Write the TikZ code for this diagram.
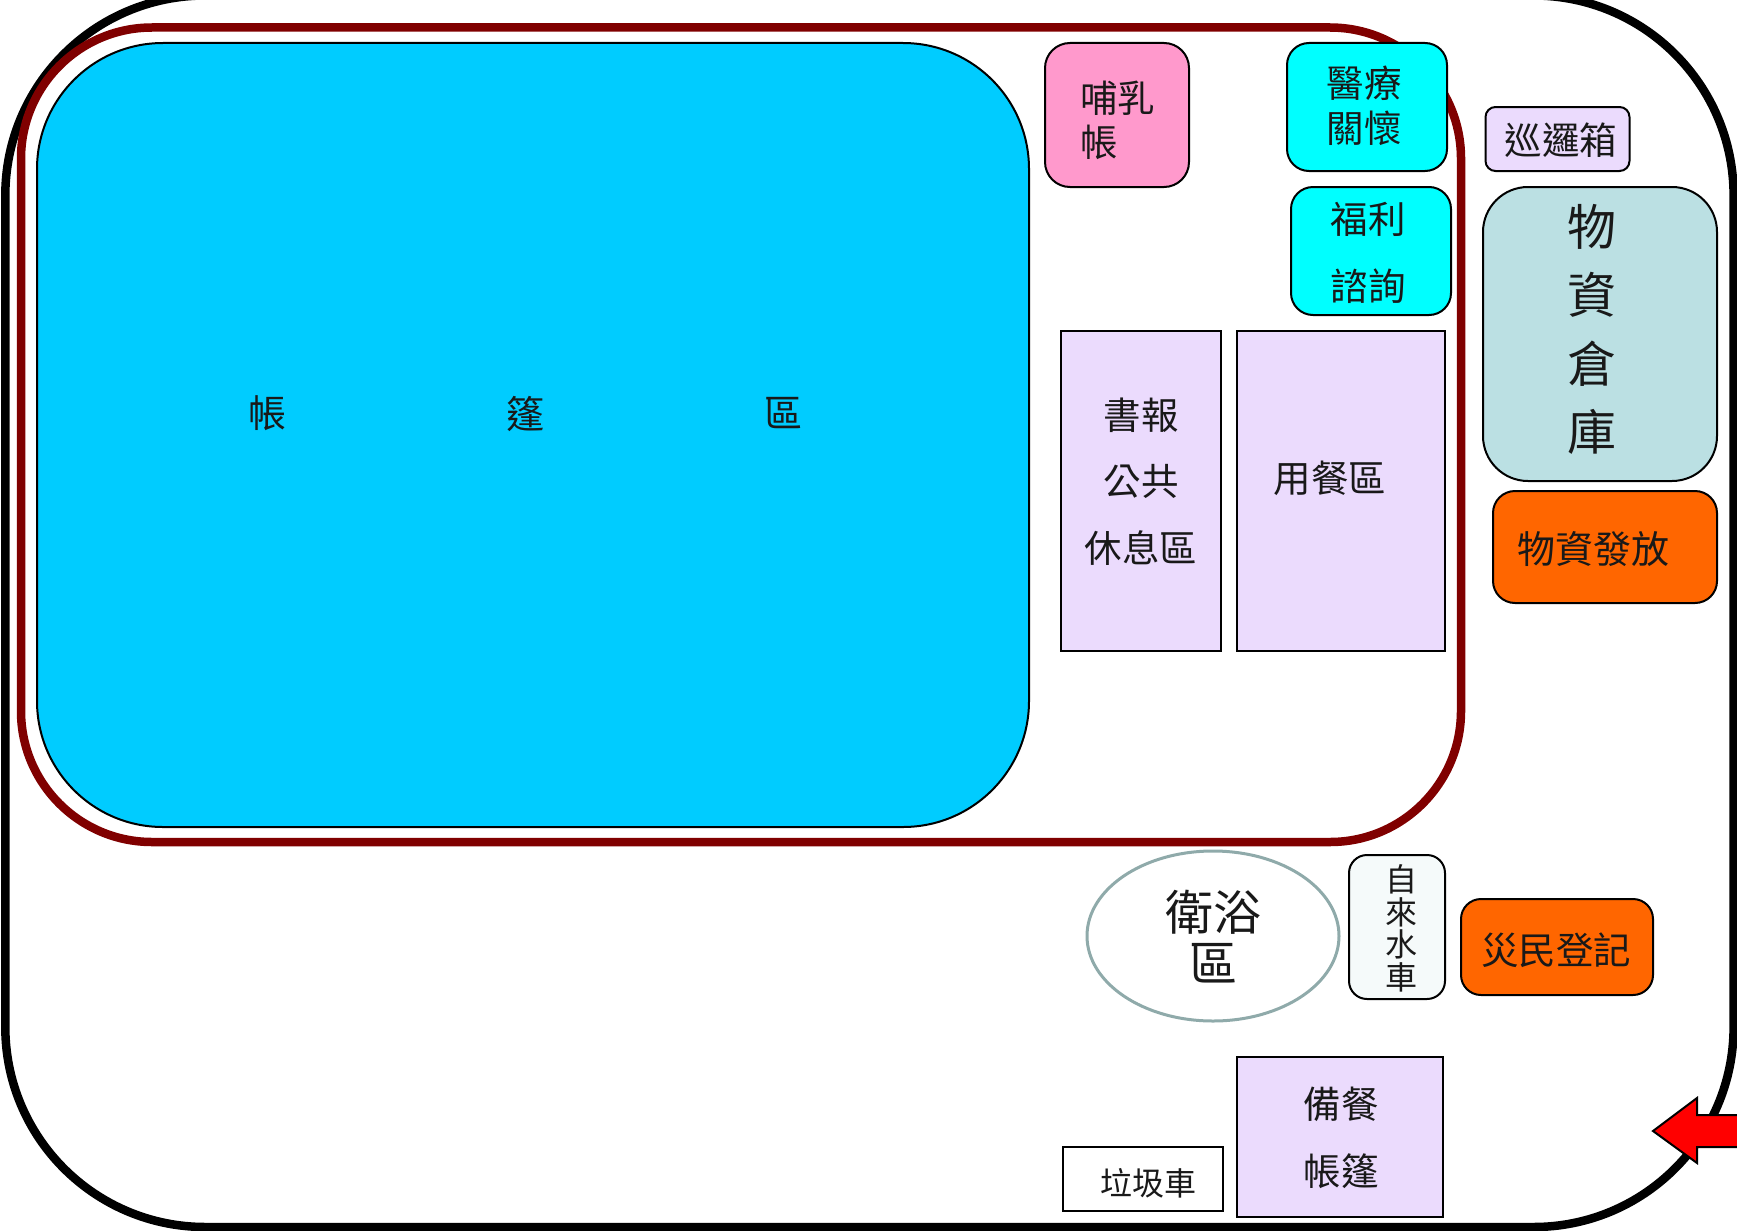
\documentclass[tikz,border=0pt]{standalone}
\usepackage{fontspec}
\setmainfont{Noto Sans CJK TC}
\usetikzlibrary{shapes.geometric}
\definecolor{tentblue}{HTML}{00CCFF}
\definecolor{careblue}{HTML}{00FFFF}
\definecolor{nursepink}{HTML}{FF99CC}
\definecolor{hallpurple}{HTML}{EBDBFD}
\definecolor{storeteal}{HTML}{BBE0E3}
\definecolor{signorange}{HTML}{FF6600}
\definecolor{waterpale}{HTML}{F5FAFA}
\definecolor{bathgrey}{HTML}{8FAAAA}
\newcommand{\fs}[2]{\fontsize{#1pt}{#2pt}\selectfont}

\begin{document}
\begin{tikzpicture}[
    x=1pt, y=-1pt,
    size/.style 2 args={minimum width=#1pt, minimum height=#2pt, inner sep=0pt, outer sep=0pt},
    ring/.style={draw, line width=8.5pt, rounded corners=200pt},
    camp/.style={draw=red!50!black, line width=8.5pt, rounded corners=131pt},
    soft/.style={draw, line width=2pt, rounded corners=#1},
    soft/.default=22pt,
    hall/.style={draw, line width=2pt, fill=hallpurple},
    txt/.style={align=center, inner sep=0pt, text=black!90}
  ]
  \useasboundingbox (0,0) rectangle (1737,1231);

  % site boundary and the inner camp line
  \node[ring, size={1728.3}{1231.5}] (site) at (869.45,611.25) {};
  \node[camp, size={1440}{814.5}] (camp) at (741,434.75) {};

  % tents
  \node[soft=126pt, fill=tentblue, size={992}{784}] (tents) at (533,435) {};
  \node[txt, font=\fs{38}{44}] (tentsA) at (267,413.5) {帳};
  \node[txt, font=\fs{38}{44}] (tentsB) at (525,413.5) {篷};
  \node[txt, font=\fs{38}{44}] (tentsC) at (783,413.5) {區};

  % top row
  \node[soft=25pt, fill=nursepink, size={144}{144},
    label={[txt, shift={(0.5,5)}, font=\fs{37.5}{44}, align=left]center:{哺乳\\帳}}] (nursing) at (1117,115) {};
  \node[soft, fill=careblue, size={160}{128},
    label={[txt, shift={(-3,-1.5)}, font=\fs{37.5}{45}]center:{醫療\\關懷}}] (medical) at (1367,107) {};
  \node[soft, fill=careblue, size={160}{128},
    label={[txt, shift={(-3,1.5)}, font=\fs{37.5}{67}]center:{福利\\諮詢}}] (welfare) at (1371,251) {};
  \node[soft=10pt, fill=hallpurple, size={144}{64},
    label={[txt, shift={(3.5,1.5)}, font=\fs{37.5}{44}]center:{巡邏箱}}] (patrol) at (1557.5,139) {};

  % halls
  \node[hall, size={160}{320},
    label={[txt, shift={(0,-9.5)}, font=\fs{37.5}{66.5}]center:{書報\\公共\\休息區}}] (reading) at (1141,491) {};
  \node[hall, size={208}{320},
    label={[txt, shift={(-11,-13)}, font=\fs{37.5}{44}]center:{用餐區}}] (dining) at (1341,491) {};

  % supplies
  \node[soft=45pt, fill=storeteal, size={234}{294},
    label={[txt, shift={(-8,-4.5)}, font=\fs{49}{68.3}]center:{物\\資\\倉\\庫}}] (store) at (1600,334) {};
  \node[soft, fill=signorange, size={224}{112},
    label={[txt, shift={(-12,2)}, font=\fs{38}{44}]center:{物資發放}}] (supply) at (1605,547) {};

  % lower right
  \node[ellipse, draw=bathgrey, line width=3pt, size={252}{170},
    label={[txt, shift={(0,1)}, font=\fs{48}{51}]center:{衛浴\\區}}] (bath) at (1213,936) {};
  \node[soft=18pt, fill=waterpale, size={96}{144},
    label={[txt, shift={(4,1.5)}, font=\fs{32}{32.6}]center:{自\\來\\水\\車}}] (water) at (1397,927) {};
  \node[soft=20pt, fill=signorange, size={192}{96},
    label={[txt, shift={(-1,3)}, font=\fs{37.5}{44}]center:{災民登記}}] (register) at (1557,947) {};
  \node[hall, size={206}{160},
    label={[txt, shift={(1,1)}, font=\fs{37.5}{67}]center:{備餐\\帳篷}}] (catering) at (1340,1137) {};
  \node[draw, line width=2pt, size={160}{64},
    label={[txt, shift={(5.5,4)}, font=\fs{32}{40}]center:{垃圾車}}] (truck) at (1143,1179) {};

  % entrance
  \draw[line width=2pt, fill=red, line join=miter]
    (1760,1115) -- (1697,1115) -- (1697,1098) -- (1653,1131)
    -- (1697,1163) -- (1697,1147) -- (1760,1147) -- cycle;
\end{tikzpicture}
\end{document}
